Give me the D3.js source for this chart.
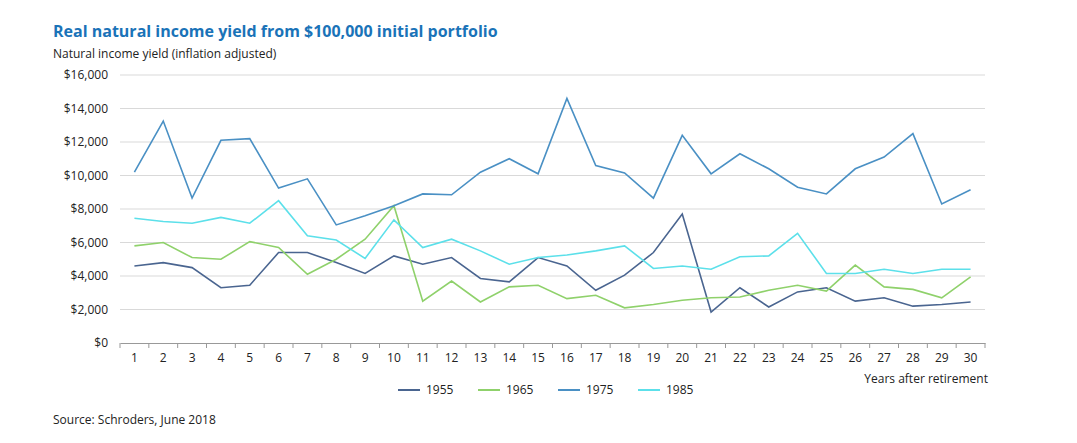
<!DOCTYPE html>
<html><head><meta charset="utf-8">
<script src="https://cdn.jsdelivr.net/npm/d3@7"></script>
<style>body{margin:0;background:#fff;font-family:"Open Sans",sans-serif;}</style>
</head><body>
<script>
const years = d3.range(1, 31);
const s1955 = [4600,4800,4500,3300,3450,5400,5400,4800,4150,5200,4700,5100,3850,3650,5100,4600,3150,4050,5400,7700,1850,3300,2150,3050,3300,2500,2700,2200,2300,2450];
const s1965 = [5800,6000,5100,5000,6050,5700,4100,5000,6200,8200,2500,3700,2450,3350,3450,2650,2850,2100,2300,2550,2700,2750,3150,3450,3100,4650,3350,3200,2700,3950];
const s1975 = [10200,13250,8650,12100,12200,9250,9800,7050,7600,8200,8900,8850,10200,11000,10100,14600,10600,10150,8650,12400,10100,11300,10400,9300,8900,10400,11100,12500,8300,9150];
const s1985 = [7450,7250,7150,7500,7150,8500,6400,6150,5050,7350,5700,6200,5500,4700,5100,5250,5500,5800,4450,4600,4400,5150,5200,6550,4150,4150,4400,4150,4400,4400];
const series = [
  {name: "1955", values: s1955, color: "#4a6590"},
  {name: "1965", values: s1965, color: "#8fd16b"},
  {name: "1975", values: s1975, color: "#4a90c4"},
  {name: "1985", values: s1985, color: "#5ce0ea"}
];
const yTicks = d3.range(0, 16001, 2000);

const width = 1077, height = 443;
const plotLeft = 120, plotRight = 985, plotTop = 75, plotBottom = 343;

const svg = d3.select("body").append("svg").attr("width", width).attr("height", height);

const x = d3.scaleBand().domain(years).range([plotLeft, plotRight]);
const y = d3.scaleLinear().domain([0, 16000]).range([plotBottom, plotTop]);

svg.append("text").attr("x", 53).attr("y", 37).attr("font-size", 16).attr("font-weight", "bold")
  .attr("fill", "#1a73b8").text("Real natural income yield from $100,000 initial portfolio");
svg.append("text").attr("x", 53).attr("y", 58).attr("font-size", 12).attr("fill", "#222")
  .text("Natural income yield (inflation adjusted)");

svg.append("g").selectAll("line").data(yTicks.slice(1)).join("line")
  .attr("x1", plotLeft).attr("x2", plotRight).attr("y1", d => y(d)).attr("y2", d => y(d))
  .attr("stroke", "#d9d9d9");

svg.append("g").selectAll("text").data(yTicks).join("text")
  .attr("x", 108).attr("y", d => y(d) + 4).attr("text-anchor", "end")
  .attr("font-size", 12).attr("fill", "#222")
  .text(d => "$" + d3.format(",")(d));

const xAxis = svg.append("g").attr("transform", `translate(0,${plotBottom})`)
  .call(d3.axisBottom(x).tickSize(0).tickPadding(10));
xAxis.select(".domain").attr("stroke", "#999");
xAxis.selectAll("text").attr("font-size", 12).attr("fill", "#222").attr("font-family", "Open Sans");
svg.append("g").selectAll("line").data(years.concat([31])).join("line")
  .attr("x1", d => d <= 30 ? x(d) : plotRight).attr("x2", d => d <= 30 ? x(d) : plotRight)
  .attr("y1", plotBottom).attr("y2", plotBottom + 5).attr("stroke", "#999");

svg.append("text").attr("x", 988).attr("y", 383).attr("text-anchor", "end")
  .attr("font-size", 12).attr("fill", "#222").text("Years after retirement");

const line = d3.line().x((d, i) => x(years[i]) + x.bandwidth() / 2).y(d => y(d));
svg.append("g").selectAll("path").data(series).join("path")
  .attr("d", d => line(d.values)).attr("fill", "none")
  .attr("stroke", d => d.color).attr("stroke-width", 1.6);

const lg = svg.append("g").selectAll("g").data(series).join("g")
  .attr("transform", (d, i) => `translate(${398 + i * 80},390)`);
lg.append("line").attr("x1", 0).attr("x2", 22).attr("stroke", d => d.color).attr("stroke-width", 2);
lg.append("text").attr("x", 28).attr("y", 4).attr("font-size", 12).attr("fill", "#222").text(d => d.name);

svg.append("text").attr("x", 53).attr("y", 424).attr("font-size", 12).attr("fill", "#222")
  .text("Source: Schroders, June 2018");
</script>
</body></html>
